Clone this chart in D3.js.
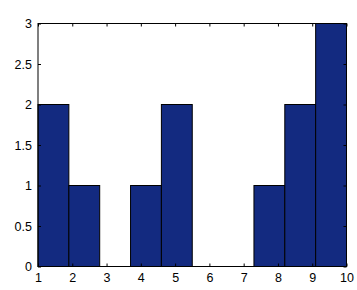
<!DOCTYPE html>
<html>
<head>
<meta charset="utf-8">
<script src="https://cdn.jsdelivr.net/npm/d3@7"></script>
<style>
  body { margin: 0; background: #fff; }
  svg text { font-family: "Liberation Sans", Arial, sans-serif; font-size: 12.5px; fill: #000; }
</style>
</head>
<body>
<div id="chart"></div>
<script>
// histogram bins (left edges) and counts
var binStarts = [1, 1.9, 2.8, 3.7, 4.6, 5.5, 6.4, 7.3, 8.2, 9.1];
var binWidth = 0.9;
var counts = [2, 1, 0, 1, 2, 0, 0, 1, 2, 3];
var xTicks = [1, 2, 3, 4, 5, 6, 7, 8, 9, 10];
var yTicks = [0, 0.5, 1, 1.5, 2, 2.5, 3];

var w = 357,
    h = 290;
var mLeft = 38, mRight = 346.5, mTop = 23.5, mBottom = 266.5;

var svg = d3.select("#chart")
	.append("svg")
	.attr("width", w)
	.attr("height", h);

var x = d3.scaleLinear().domain([1, 10]).range([mLeft, mRight]);
var y = d3.scaleLinear().domain([0, 3]).range([mBottom, mTop]);

var bins = counts.map(function(c, i) { return {x0: binStarts[i], x1: binStarts[i] + binWidth, n: c}; })
	.filter(function(d) { return d.n > 0; });

// bars
svg.selectAll(".bar")
	.data(bins)
	.enter()
	.append("rect")
	.attr("class", "bar")
	.attr("x", function(d) { return x(d.x0); })
	.attr("y", function(d) { return y(d.n); })
	.attr("width", function(d) { return x(d.x1) - x(d.x0); })
	.attr("height", function(d) { return y(0) - y(d.n); })
	.attr("fill", "#132a80")
	.attr("stroke", "#000")
	.attr("stroke-width", 1);

// box
svg.append("rect")
	.attr("x", mLeft)
	.attr("y", mTop)
	.attr("width", mRight - mLeft)
	.attr("height", mBottom - mTop)
	.attr("fill", "none")
	.attr("stroke", "#000")
	.attr("stroke-width", 1);

// axes, ticks inward
var fmt = function(d) { return String(d); };
var xAxisB = d3.axisBottom(x).tickValues(xTicks).tickSizeInner(-3).tickSizeOuter(0).tickPadding(7).tickFormat(fmt);
var xAxisT = d3.axisTop(x).tickValues(xTicks).tickSizeInner(-3).tickSizeOuter(0).tickFormat("");
var yAxisL = d3.axisLeft(y).tickValues(yTicks).tickSizeInner(-3).tickSizeOuter(0).tickPadding(6).tickFormat(fmt);
var yAxisR = d3.axisRight(y).tickValues(yTicks).tickSizeInner(-3).tickSizeOuter(0).tickFormat("");

function styleAxis(g) {
	g.select(".domain").remove();
	g.selectAll("text").attr("font-family", null).attr("font-size", null);
	g.selectAll("line").attr("stroke", "#000");
}

svg.append("g").attr("transform", "translate(0," + mBottom + ")").call(xAxisB).call(styleAxis);
svg.append("g").attr("transform", "translate(0," + mTop + ")").call(xAxisT).call(styleAxis);
svg.append("g").attr("transform", "translate(" + mLeft + ",0)").call(yAxisL).call(styleAxis);
svg.append("g").attr("transform", "translate(" + mRight + ",0)").call(yAxisR).call(styleAxis);
</script>
</body>
</html>
